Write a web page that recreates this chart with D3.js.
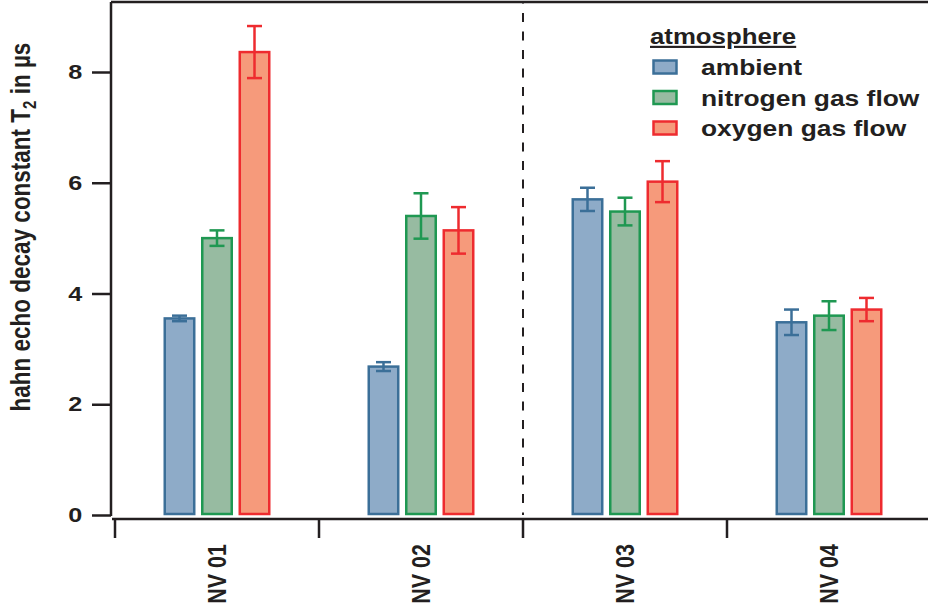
<!DOCTYPE html>
<html>
<head>
<meta charset="utf-8">
<script src="https://cdn.jsdelivr.net/npm/d3@7"></script>
<style>
  body { margin: 0; background: #fff; }
  svg { font-family: "Liberation Sans", Arial, sans-serif; font-weight: bold; }
</style>
</head>
<body>
<div id="plotContainer"></div>
<script>
// data
const samples = ["NV 01", "NV 02", "NV 03", "NV 04"];
const series = ["ambient", "nitrogen gas flow", "oxygen gas flow"];
const ambient = [3.55, 2.68, 5.70, 3.48];
const ambientErr = [0.05, 0.08, 0.21, 0.23];
const nitrogen = [5.00, 5.40, 5.48, 3.60];
const nitrogenErr = [0.14, 0.41, 0.25, 0.26];
const oxygen = [8.36, 5.14, 6.02, 3.71];
const oxygenErr = [0.47, 0.42, 0.37, 0.21];
const yTicks = [0, 2, 4, 6, 8];

const fills = ["#8eabc8", "#97bba1", "#f69a7b"];
const strokes = ["#3b6f98", "#1f9852", "#ee2b2f"];
const ink = "#231f20";

const svgWidth = 928, svgHeight = 610;
const plotLeft = 111, frameTop = 1, plotBottom = 515, axisY = 519;
const stretch = "scale(1.2,1)"; // the figure's lettering is wide

const values = [ambient, nitrogen, oxygen];
const errors = [ambientErr, nitrogenErr, oxygenErr];

let rows = [];
samples.forEach(function(s, i) {
  series.forEach(function(k, j) {
    rows.push({sample: s, key: k, j: j, v: values[j][i], e: errors[j][i]});
  });
});

let svg = d3.select("#plotContainer").append("svg")
  .attr("width", svgWidth)
  .attr("height", svgHeight);

let x0 = d3.scaleBand().domain(samples).range([115, 931]);
let gw = x0.bandwidth();
let x1 = d3.scaleBand().domain(series)
  .range([gw / 2 - 53.5, gw / 2 + 53.5])
  .paddingInner(0.147);

let y = d3.scaleLinear().domain([0, 8]).range([plotBottom, 72]);

// frame top
svg.append("line")
  .attr("x1", plotLeft).attr("x2", svgWidth)
  .attr("y1", frameTop + 1).attr("y2", frameTop + 1)
  .attr("stroke", ink).attr("stroke-width", 2.5);

// dashed separator between NV 02 and NV 03
svg.append("line")
  .attr("x1", x0("NV 03")).attr("x2", x0("NV 03"))
  .attr("y1", frameTop + 2).attr("y2", plotBottom)
  .attr("stroke", ink).attr("stroke-width", 2)
  .attr("stroke-dasharray", "9,9.5")
  .attr("stroke-dashoffset", -10);

// y axis
let yAxis = d3.axisLeft(y).tickValues(yTicks).tickSize(19).tickPadding(5);
let gy = svg.append("g")
  .attr("transform", "translate(" + plotLeft + ",0)")
  .call(yAxis);
gy.select(".domain").attr("d", "M0," + (frameTop + 1) + "V" + (plotBottom + 1)).attr("stroke", ink).attr("stroke-width", 2.5);
gy.selectAll(".tick line").attr("stroke", ink).attr("stroke-width", 2.5);
gy.selectAll(".tick text")
  .attr("fill", ink)
  .attr("transform", stretch)
  .style("font-size", "21px")
  .style("font-weight", "bold")
  .style("font-family", "'Liberation Sans', Arial, sans-serif");

// y label
let yl = svg.append("text")
  .attr("transform", "translate(29.5,227) " + stretch + " rotate(-90)")
  .attr("text-anchor", "middle")
  .attr("fill", ink)
  .style("font-size", "22.5px");
yl.append("tspan").text("hahn echo decay constant  T");
yl.append("tspan").attr("dy", 5).style("font-size", "15px").text("2");
yl.append("tspan").attr("dy", -5).text(" in µs");

// x axis: ticks at group boundaries
let boundaries = samples.map(function(s) { return x0(s); });
let gx = svg.append("g");
gx.append("line")
  .attr("x1", plotLeft + 1).attr("x2", svgWidth)
  .attr("y1", axisY).attr("y2", axisY)
  .attr("stroke", ink).attr("stroke-width", 2.5);
gx.selectAll(".xt").data(boundaries).enter().append("line")
  .attr("x1", function(d) { return d; }).attr("x2", function(d) { return d; })
  .attr("y1", axisY).attr("y2", 538)
  .attr("stroke", ink).attr("stroke-width", 2.5);
gx.selectAll(".xl").data(samples).enter().append("text")
  .attr("transform", function(d) {
    return "translate(" + (x0(d) + gw / 2) + ",544) " + stretch + " rotate(-90)";
  })
  .attr("text-anchor", "end")
  .attr("dominant-baseline", "central")
  .attr("fill", ink)
  .style("font-size", "21.5px")
  .text(function(d) { return d; });

// bars
let g = svg.append("g");
g.selectAll("rect.bar").data(rows).enter().append("rect")
  .attr("class", "bar")
  .attr("x", function(d) { return x0(d.sample) + x1(d.key) + 1.25; })
  .attr("width", x1.bandwidth() - 2.5)
  .attr("y", function(d) { return y(d.v); })
  .attr("height", function(d) { return y(0) - 1 - y(d.v); })
  .attr("fill", function(d) { return fills[d.j]; })
  .attr("stroke", function(d) { return strokes[d.j]; })
  .attr("stroke-width", 2.5);

// error bars
let cx = function(d) { return x0(d.sample) + x1(d.key) + x1.bandwidth() / 2; };
let eb = g.selectAll("g.err").data(rows).enter().append("g")
  .attr("stroke", function(d) { return strokes[d.j]; })
  .attr("stroke-width", 2.5);
eb.append("line")
  .attr("x1", cx).attr("x2", cx)
  .attr("y1", function(d) { return y(d.v + d.e); })
  .attr("y2", function(d) { return y(d.v - d.e); });
[1, -1].forEach(function(sg) {
  eb.append("line")
    .attr("x1", function(d) { return cx(d) - 7.5; })
    .attr("x2", function(d) { return cx(d) + 7.5; })
    .attr("y1", function(d) { return y(d.v + sg * d.e); })
    .attr("y2", function(d) { return y(d.v + sg * d.e); });
});

// legend
let lg = svg.append("g");
lg.append("text")
  .attr("transform", "translate(650,44) " + stretch)
  .attr("fill", ink)
  .style("font-size", "21.5px")
  .style("text-decoration", "underline")
  .text("atmosphere");
let items = lg.selectAll("g.item").data(series).enter().append("g")
  .attr("transform", function(d, i) { return "translate(0," + (67 + i * 30.5) + ")"; });
items.append("rect")
  .attr("x", 653.5).attr("y", -6.5)
  .attr("width", 23).attr("height", 13)
  .attr("fill", function(d, i) { return fills[i]; })
  .attr("stroke", function(d, i) { return strokes[i]; })
  .attr("stroke-width", 2.5);
items.append("text")
  .attr("transform", "translate(701,8) " + stretch)
  .attr("fill", ink)
  .style("font-size", "22px")
  .text(function(d) { return d; });
</script>
</body>
</html>
